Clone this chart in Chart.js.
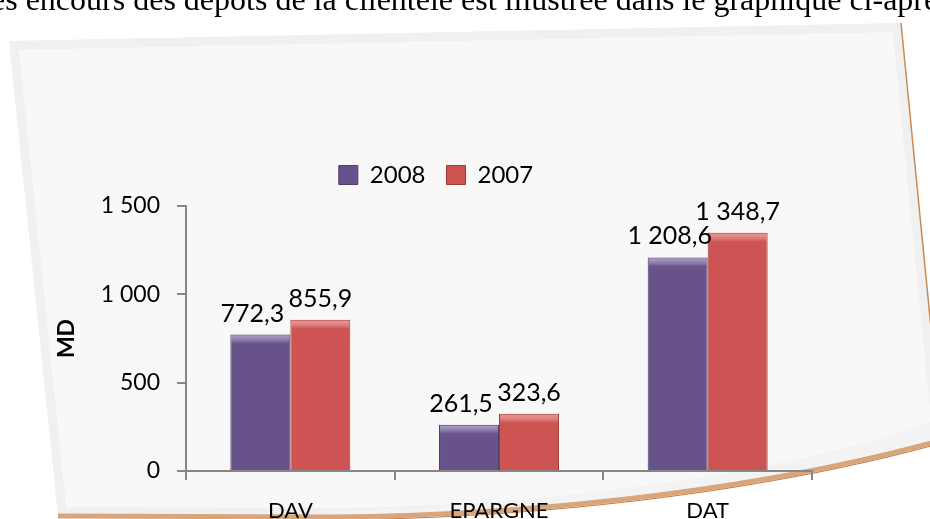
<!DOCTYPE html>
<html>
<head>
<meta charset="utf-8">
<script src="https://cdn.jsdelivr.net/npm/chart.js@4.4.1/dist/chart.umd.min.js"></script>
<style>
  html, body { margin: 0; padding: 0; background: #fff; }
  #graficoDepots { display: block; }
</style>
</head>
<body>
<canvas id="graficoDepots" width="930" height="519"></canvas>
<script>
const categorias = ["DAV", "EPARGNE", "DAT"];
const anos = ["2008", "2007"];
const valores2008 = [772.3, 261.5, 1208.6];
const valores2007 = [855.9, 323.6, 1348.7];
const ticksY = [0, 500, 1000, 1500];
const textoTopo = "es encours des dépôts de la clientèle est illustrée dans le graphique ci-après";

// 1 208,6 style
function formatar(v, dec) {
  const partes = v.toFixed(dec).split(".");
  partes[0] = partes[0].replace(/\B(?=(\d{3})+(?!\d))/g, " ");
  return partes.join(",");
}

// degrade com bordas escuras, tipo bisel do Excel
function corBisel(cor, escura) {
  return (context) => {
    const el = context.element;
    if (!el || !el.width) return cor;
    const x0 = el.x - el.width / 2;
    const g = context.chart.ctx.createLinearGradient(x0, 0, x0 + el.width, 0);
    g.addColorStop(0, escura);
    g.addColorStop(0.07, cor);
    g.addColorStop(0.9, cor);
    g.addColorStop(1, escura);
    return g;
  };
}

// folha de papel torta por tras do grafico
const fundoPapel = {
  id: "fundoPapel",
  beforeDraw(chart) {
    const c = chart.ctx;
    c.save();
    c.fillStyle = "#fff";
    c.fillRect(0, 0, chart.width, chart.height);

    c.font = "32px 'Liberation Serif'";
    c.fillStyle = "#000";
    c.textBaseline = "alphabetic";
    c.fillText(textoTopo, -9, 10);

    c.beginPath();
    c.moveTo(9, 41);
    c.lineTo(901, 23);
    c.lineTo(942, 440);
    c.bezierCurveTo(780, 485, 560, 515, 330, 517);
    c.lineTo(58, 516);
    c.closePath();
    c.save();
    c.clip();
    c.fillStyle = "#f8f8f8";
    c.fill();
    c.lineWidth = 18;
    c.strokeStyle = "#f0f0f0";
    c.stroke();
    // parte dobrada embaixo
    c.beginPath();
    c.moveTo(942, 418);
    c.bezierCurveTo(800, 470, 600, 500, 330, 512);
    c.lineTo(330, 520);
    c.lineTo(942, 520);
    c.closePath();
    c.fillStyle = "#f3f3f3";
    c.fill();
    c.restore();

    // borda direita
    c.beginPath();
    c.moveTo(901, 23);
    c.lineTo(942, 440);
    c.lineWidth = 1.5;
    c.strokeStyle = "#c98a55";
    c.stroke();

    // dobra de baixo
    c.beginPath();
    c.moveTo(942, 440);
    c.bezierCurveTo(780, 485, 560, 515, 330, 517);
    c.lineTo(58, 516);
    c.lineWidth = 5;
    c.strokeStyle = "#d9a67c";
    c.stroke();
    c.lineWidth = 1;
    c.strokeStyle = "#c07a45";
    c.beginPath();
    c.moveTo(942, 443);
    c.bezierCurveTo(780, 488, 560, 518, 330, 520);
    c.stroke();
    c.restore();
  }
};

const rotulosBarras = {
  id: "rotulosBarras",
  afterDatasetsDraw(chart) {
    const c = chart.ctx;
    c.save();
    // brilho no topo das barras
    chart.data.datasets.forEach((ds, i) => {
      chart.getDatasetMeta(i).data.forEach((bar) => {
        const x0 = bar.x - bar.width / 2 + 1;
        const g = c.createLinearGradient(0, bar.y, 0, bar.y + 9);
        g.addColorStop(0, ds.corBrilho);
        g.addColorStop(1, "rgba(255,255,255,0)");
        c.fillStyle = g;
        c.fillRect(x0, bar.y + 1, bar.width - 2, 9);
      });
    });
    c.font = "25px Lato";
    c.fillStyle = "#000";
    c.textAlign = "center";
    c.textBaseline = "alphabetic";
    chart.data.datasets.forEach((ds, i) => {
      chart.getDatasetMeta(i).data.forEach((bar, j) => {
        c.fillText(formatar(ds.data[j], 1), bar.x + (ds.deslocRotulo || 0), bar.y - 13);
      });
    });
    c.restore();
  }
};

// mais espaco entre legenda e area do grafico
const espacoLegenda = {
  id: "espacoLegenda",
  beforeInit(chart) {
    const fitOriginal = chart.legend.fit;
    chart.legend.fit = function () {
      fitOriginal.bind(chart.legend)();
      this.height += 9;
    };
  }
};

const ctx = document.getElementById("graficoDepots");

new Chart(ctx, {
  type: "bar",
  data: {
    labels: categorias,
    datasets: [
      {
        label: anos[0],
        data: valores2008,
        backgroundColor: corBisel("#67528a", "#52416f"),
        borderColor: "#4f3e6b",
        borderWidth: 1,
        corBrilho: "rgba(190,175,225,0.75)",
        deslocRotulo: -8
      },
      {
        label: anos[1],
        data: valores2007,
        backgroundColor: corBisel("#cd5452", "#a53f3d"),
        borderColor: "#9a3b39",
        borderWidth: 1,
        corBrilho: "rgba(255,160,158,0.75)",
        deslocRotulo: 0
      }
    ]
  },
  options: {
    responsive: false,
    animation: false,
    layout: { padding: { left: 60, right: 118, top: 142, bottom: 0 } },
    datasets: { bar: { barPercentage: 1, categoryPercentage: 0.575 } },
    plugins: {
      legend: {
        position: "top",
        labels: {
          boxWidth: 19,
          boxHeight: 19,
          padding: 21,
          color: "#000",
          font: { family: "Lato", size: 24 },
          generateLabels(chart) {
            return chart.data.datasets.map((ds, i) => ({
              text: ds.label,
              fillStyle: i === 0 ? "#67528a" : "#cd5452",
              strokeStyle: i === 0 ? "#4f3e6b" : "#9a3b39",
              lineWidth: 1,
              fontColor: "#000",
              datasetIndex: i
            }));
          }
        }
      },
      tooltip: { enabled: false }
    },
    scales: {
      x: {
        grid: { drawOnChartArea: false, tickLength: 9, color: "#868686", lineWidth: 2, offset: true },
        border: { color: "#868686", width: 2 },
        ticks: { color: "#000", padding: 18, font: { family: "Lato", size: 22 } },
        afterFit(s) { s.height = 48; }
      },
      y: {
        min: 0,
        max: 1500,
        afterBuildTicks(s) { s.ticks = ticksY.map(v => ({ value: v })); },
        grid: { drawOnChartArea: false, tickLength: 9, color: "#868686", lineWidth: 2 },
        border: { color: "#868686", width: 2 },
        ticks: {
          color: "#000",
          padding: 17,
          font: { family: "Lato", size: 23 },
          callback: v => formatar(v, 0)
        },
        title: {
          display: true,
          text: "MD",
          color: "#000",
          padding: { top: -7, bottom: 0 },
          font: { family: "Lato", size: 23, weight: "bold" }
        },
        afterFit(s) { s.width = 126; }
      }
    }
  },
  plugins: [fundoPapel, rotulosBarras, espacoLegenda]
});
</script>
</body>
</html>
